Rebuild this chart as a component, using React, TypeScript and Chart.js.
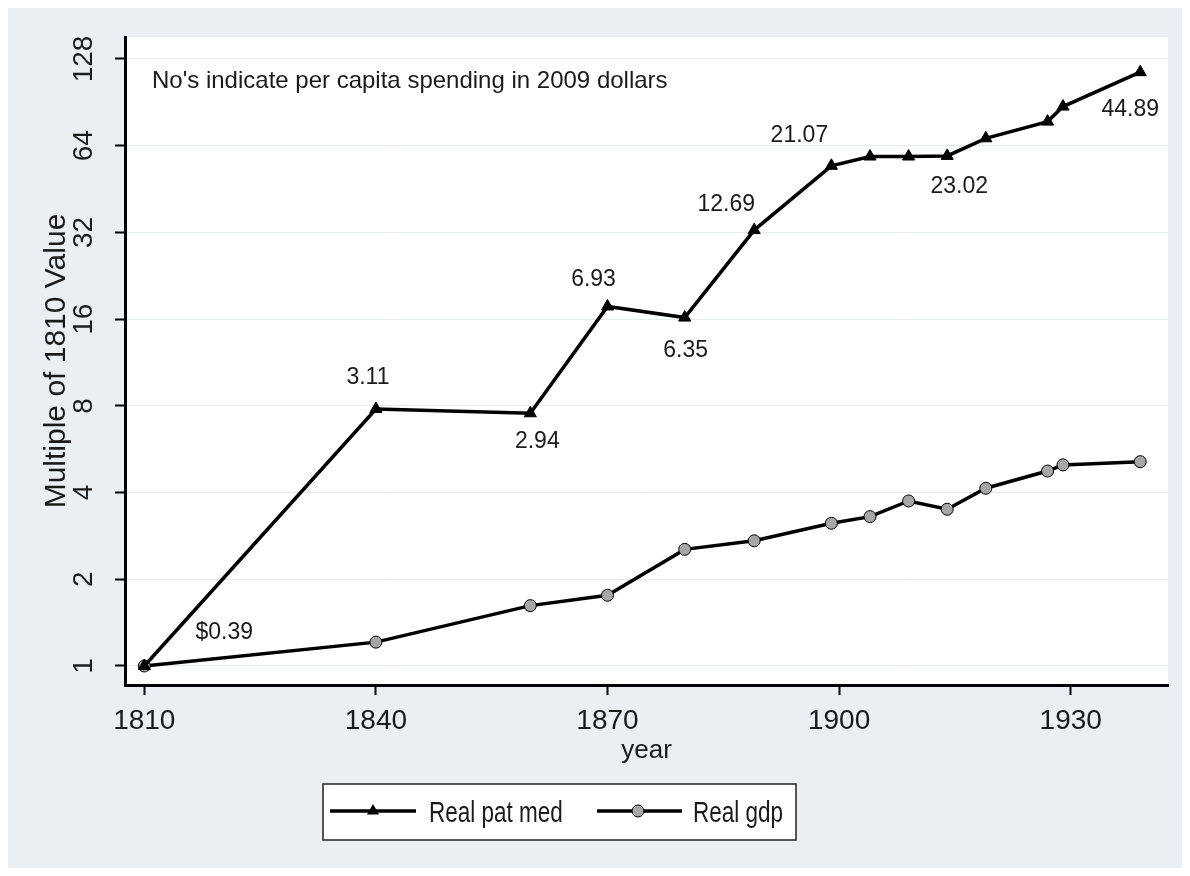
import React, { useEffect, useRef } from "react";
import { Chart, registerables } from "chart.js";

Chart.register(...registerables);

// ---- data ----
const patMedYears = [1810, 1840, 1860, 1870, 1880, 1889, 1899, 1904, 1909, 1914, 1919, 1927, 1929, 1939];
const patMedValues = [1, 7.8, 7.54, 17.7, 16.2, 32.6, 54.5, 58.7, 58.7, 59.0, 67.9, 77.6, 87.5, 115.2];
const gdpYears = [1810, 1840, 1860, 1870, 1880, 1889, 1899, 1904, 1909, 1914, 1919, 1927, 1929, 1939];
const gdpValues = [1, 1.21, 1.62, 1.76, 2.54, 2.72, 3.13, 3.3, 3.74, 3.5, 4.14, 4.75, 4.99, 5.12];
const spendingLabels = ["$0.39", "3.11", "2.94", "6.93", "6.35", "12.69", "21.07", "", "", "23.02", "", "", "", "44.89"];
const xTickValues = [1810, 1840, 1870, 1900, 1930];
const yTickValues = [1, 2, 4, 8, 16, 32, 64, 128];
const seriesNames = ["Real pat med", "Real gdp"];
const noteText = "No's indicate per capita spending in 2009 dollars";

// label placement offsets (style, px) relative to each labelled point
const labelOffsets: (number[] | null)[] = [
  [80, -33], [-8, -31], [7, 28], [-14, -27], [1, 33], [-28, -25], [-32, -30],
  null, null, [12, 31], null, null, null, [-10, 37],
];

const FONT = "'Liberation Sans', Arial, Helvetica, sans-serif";
const BG = "#e9eff2";
const TEXT = "#1a1a1a";
const GDP_FILL = "#a6a6a6";
const LINE_W = 3.5;

function drawTriangle(ctx: CanvasRenderingContext2D, x: number, y: number, r: number) {
  ctx.beginPath();
  ctx.moveTo(x, y - r);
  ctx.lineTo(x + r * Math.sin(Math.PI / 3), y + r / 2);
  ctx.lineTo(x - r * Math.sin(Math.PI / 3), y + r / 2);
  ctx.closePath();
  ctx.fillStyle = "#000";
  ctx.fill();
}

function drawCircle(ctx: CanvasRenderingContext2D, x: number, y: number, r: number) {
  ctx.beginPath();
  ctx.arc(x, y, r, 0, Math.PI * 2);
  ctx.fillStyle = GDP_FILL;
  ctx.fill();
  ctx.lineWidth = 1;
  ctx.strokeStyle = "#000";
  ctx.stroke();
}

function narrowText(ctx: CanvasRenderingContext2D, txt: string, x: number, y: number, sx: number) {
  ctx.save();
  ctx.translate(x, y);
  ctx.scale(sx, 1);
  ctx.fillText(txt, 0, 0);
  ctx.restore();
}

const plotBgPlugin = {
  id: "plotBg",
  beforeDraw(chart: any) {
    const { ctx, chartArea } = chart;
    ctx.save();
    ctx.fillStyle = "#ffffff";
    ctx.fillRect(chartArea.left, chartArea.top, chartArea.right - chartArea.left, chartArea.bottom - chartArea.top);
    ctx.restore();
  },
};

const pointLabelsPlugin = {
  id: "pointLabels",
  afterDatasetsDraw(chart: any) {
    const { ctx, chartArea } = chart;
    const meta = chart.getDatasetMeta(0);
    ctx.save();
    ctx.font = `23px ${FONT}`;
    ctx.fillStyle = TEXT;
    ctx.textAlign = "center";
    ctx.textBaseline = "middle";
    spendingLabels.forEach((txt, i) => {
      const off = labelOffsets[i];
      if (!txt || !off) return;
      const el = meta.data[i];
      ctx.fillText(txt, el.x + off[0], el.y + off[1]);
    });
    // note in the top-left of the plot
    ctx.textAlign = "left";
    ctx.textBaseline = "alphabetic";
    ctx.font = `24px ${FONT}`;
    ctx.fillText(noteText, chartArea.left + 27, chartArea.top + 51);
    ctx.restore();
  },
};

const boxLegendPlugin = {
  id: "boxLegend",
  afterDraw(chart: any) {
    const { ctx } = chart;
    const bx = 315, by = 776, bw = 473, bh = 56;
    ctx.save();
    ctx.fillStyle = "#ffffff";
    ctx.fillRect(bx, by, bw, bh);
    ctx.lineWidth = 1.5;
    ctx.strokeStyle = "#222";
    ctx.strokeRect(bx, by, bw, bh);
    const ly = by + 27;
    // series 1
    ctx.lineWidth = LINE_W;
    ctx.strokeStyle = "#000";
    ctx.beginPath();
    ctx.moveTo(bx + 7, ly);
    ctx.lineTo(bx + 93, ly);
    ctx.stroke();
    drawTriangle(ctx, bx + 50, ly, 7);
    // series 2
    ctx.lineWidth = LINE_W;
    ctx.strokeStyle = "#000";
    ctx.beginPath();
    ctx.moveTo(bx + 274, ly);
    ctx.lineTo(bx + 359, ly);
    ctx.stroke();
    drawCircle(ctx, bx + 315, ly, 6);
    ctx.fillStyle = TEXT;
    ctx.font = `30px ${FONT}`;
    ctx.textAlign = "left";
    ctx.textBaseline = "middle";
    narrowText(ctx, seriesNames[0], bx + 106, ly + 3, 0.75);
    narrowText(ctx, seriesNames[1], bx + 370, ly + 3, 0.75);
    ctx.restore();
  },
};

export default function App() {
  const canvasRef = useRef<HTMLCanvasElement | null>(null);

  useEffect(() => {
    const canvas = canvasRef.current;
    if (!canvas) return;
    const chart = new Chart(canvas, {
      type: "line",
      data: {
        datasets: [
          {
            label: seriesNames[0],
            data: patMedYears.map((x, i) => ({ x, y: patMedValues[i] })),
            borderColor: "#000",
            borderWidth: LINE_W,
            pointStyle: "triangle",
            pointRadius: 7,
            pointBackgroundColor: "#000",
            pointBorderColor: "#000",
            pointBorderWidth: 1,
            tension: 0,
          },
          {
            label: seriesNames[1],
            data: gdpYears.map((x, i) => ({ x, y: gdpValues[i] })),
            borderColor: "#000",
            borderWidth: LINE_W,
            pointStyle: "circle",
            pointRadius: 6,
            pointBackgroundColor: GDP_FILL,
            pointBorderColor: "#000",
            pointBorderWidth: 1,
            tension: 0,
          },
        ],
      },
      options: {
        animation: false,
        responsive: false,
        layout: { padding: { top: 29, right: 22, bottom: 102, left: 0 } },
        plugins: { legend: { display: false }, tooltip: { enabled: false } },
        scales: {
          x: {
            type: "linear",
            bounds: "data",
            min: 1807.5,
            max: 1942.6,
            afterFit: (s: any) => { s.height = 81; },
            afterBuildTicks: (s: any) => { s.ticks = xTickValues.map((v) => ({ value: v })); },
            ticks: {
              callback: (v: any) => String(v),
              font: { family: FONT, size: 28 },
              color: TEXT,
              padding: 9,
              maxRotation: 0,
              autoSkip: false,
            },
            grid: { drawOnChartArea: false, tickLength: 10, tickColor: "#000", tickWidth: 2 },
            border: { color: "#000", width: 3 },
            title: {
              display: true,
              text: "year",
              font: { family: FONT, size: 26 },
              color: TEXT,
              padding: { top: 0, bottom: 0 },
            },
          },
          y: {
            type: "logarithmic",
            bounds: "data",
            min: 0.859,
            max: 152.6,
            afterFit: (s: any) => { s.width = 117; },
            afterBuildTicks: (s: any) => { s.ticks = yTickValues.map((v) => ({ value: v })); },
            ticks: {
              callback: (v: any) => String(v),
              font: { family: FONT, size: 28 },
              color: TEXT,
              minRotation: 90,
              maxRotation: 90,
              crossAlign: "center",
              padding: 7,
              autoSkip: false,
            },
            grid: { color: "#e4eaee", lineWidth: 1, tickLength: 10, tickColor: "#000", tickWidth: 2 },
            border: { color: "#000", width: 3 },
            title: {
              display: true,
              text: "Multiple of 1810 Value",
              font: { family: FONT, size: 30 },
              color: TEXT,
              padding: { top: 31, bottom: 0 },
            },
          },
        },
      } as any,
      plugins: [plotBgPlugin, pointLabelsPlugin, boxLegendPlugin],
    });
    return () => chart.destroy();
  }, []);

  return (
    <div style={{ width: 1182, height: 860, background: BG }}>
      <canvas ref={canvasRef} width={1182} height={860} style={{ display: "block" }} />
    </div>
  );
}
